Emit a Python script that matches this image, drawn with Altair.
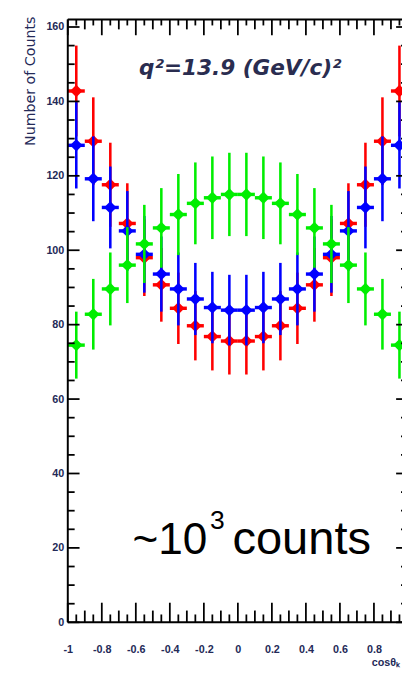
import altair as alt
import pandas as pd

# ---- data ----
x_centers = [-0.95, -0.85, -0.75, -0.65, -0.55, -0.45, -0.35, -0.25, -0.15, -0.05,
             0.05, 0.15, 0.25, 0.35, 0.45, 0.55, 0.65, 0.75, 0.85, 0.95]

red_vals = [142.8, 129.3, 117.6, 107.2, 98.0, 90.7, 84.4, 79.7, 76.8, 75.6,
            75.6, 76.8, 79.7, 84.4, 90.7, 98.0, 107.2, 117.6, 129.3, 142.8]
red_errs = [12.2, 11.8, 11.3, 10.8, 10.3, 9.9, 9.6, 9.3, 9.1, 9.0,
            9.0, 9.1, 9.3, 9.6, 9.9, 10.3, 10.8, 11.3, 11.8, 12.2]

blue_vals = [128.2, 119.2, 111.5, 105.2, 98.9, 93.6, 89.6, 86.9, 84.6, 83.9,
             83.9, 84.6, 86.9, 89.6, 93.6, 98.9, 105.2, 111.5, 119.2, 128.2]
blue_errs = [11.6, 11.4, 11.0, 10.7, 10.3, 10.1, 9.8, 9.7, 9.6, 9.5,
             9.5, 9.6, 9.7, 9.8, 10.1, 10.3, 10.7, 11.0, 11.4, 11.6]

green_vals = [74.5, 82.8, 89.6, 96.0, 101.7, 106.0, 109.6, 112.6, 114.1, 115.0,
              115.0, 114.1, 112.6, 109.6, 106.0, 101.7, 96.0, 89.6, 82.8, 74.5]
green_errs = [9.0, 9.5, 9.8, 10.2, 10.5, 10.7, 10.9, 11.0, 11.1, 11.2,
              11.2, 11.1, 11.0, 10.9, 10.7, 10.5, 10.2, 9.8, 9.5, 9.0]

series_names = ["red", "blue", "green"]
series_colors = ["#ff0000", "#0000ff", "#00ee00"]

y_label_values = [0, 20, 40, 60, 80, 100, 120, 140, 160]
y_minor_values = [v for v in range(5, 161, 5) if v % 20 != 0]
x_label_values = [-1, -0.8, -0.6, -0.4, -0.2, 0, 0.2, 0.4, 0.6, 0.8]
x_major_values = [-1, -0.8, -0.6, -0.4, -0.2, 0, 0.2, 0.4, 0.6, 0.8, 1.0]
x_mid_values = [-0.9, -0.7, -0.5, -0.3, -0.1, 0.1, 0.3, 0.5, 0.7, 0.9]
x_small_values = x_centers

title_text = "q²=13.9 (GeV/c)²"
y_title = "Number of Counts"
x_title = "cosθₖ"

# ---- build tables ----
rows = []
for name, vals, errs in [("red", red_vals, red_errs), ("blue", blue_vals, blue_errs),
                         ("green", green_vals, green_errs)]:
    for x, v, e in zip(x_centers, vals, errs):
        rows.append({"series": name, "x": x, "v": v, "e": e})
df = pd.DataFrame(rows)

W, H = 341, 615
xs = alt.Scale(domain=[-1, 0.965], nice=False, zero=False)
ys = alt.Scale(domain=[0, 162], nice=False, zero=False)
LABEL_COLOR = "#242a58"

x_axis = alt.Axis(values=x_label_values, ticks=False, domain=False, grid=False,
                  labelFontSize=11, labelFont="Liberation Sans", labelFontWeight="bold",
                  labelColor=LABEL_COLOR, labelPadding=22, labelFlush=False,
                  labelExpr="'' + datum.value", title=None)
y_axis = alt.Axis(values=y_label_values, ticks=False, domain=False, grid=False,
                  labelFontSize=11, labelFont="Liberation Sans", labelFontWeight="bold",
                  labelColor=LABEL_COLOR, labelPadding=4, labelFlush=False,
                  labelExpr="'' + datum.value", title=None)

layers = []
for name, color in zip(series_names, series_colors):
    base = alt.Chart(df).transform_filter(alt.datum.series == name).transform_calculate(
        lo="datum.v - datum.e", hi="datum.v + datum.e",
        xl="datum.x - 0.05", xr="datum.x + 0.05")
    vbar = base.mark_rule(color=color, strokeWidth=2.6).encode(
        x=alt.X("x:Q", scale=xs, axis=x_axis),
        y=alt.Y("lo:Q", scale=ys, axis=y_axis),
        y2="hi:Q")
    hbar = base.mark_rule(color=color, strokeWidth=3.5).encode(
        x=alt.X("xl:Q", scale=xs, axis=x_axis), x2="xr:Q",
        y=alt.Y("v:Q", scale=ys, axis=y_axis))
    pts = base.mark_point(shape="diamond", filled=True, size=160, color=color, opacity=1).encode(
        x=alt.X("x:Q", scale=xs, axis=x_axis),
        y=alt.Y("v:Q", scale=ys, axis=y_axis))
    layers += [vbar, hbar, pts]

# ---- frame and inward ticks ----
frame_df = pd.DataFrame({"k": [0]})
FRAME = "#000000"
left_line = alt.Chart(frame_df).mark_rule(color=FRAME, strokeWidth=2).encode(
    x=alt.value(0), y=alt.value(0), y2=alt.value(H))
bottom_line = alt.Chart(frame_df).mark_rule(color=FRAME, strokeWidth=2).encode(
    x=alt.value(0), x2=alt.value(W + 8), y=alt.value(H))
top_line = alt.Chart(frame_df).mark_rule(color=FRAME, strokeWidth=2).encode(
    x=alt.value(0), x2=alt.value(W + 8), y=alt.value(0))

def yticks(values, x0, x1):
    return alt.Chart(pd.DataFrame({"v": values})).mark_rule(color=FRAME, strokeWidth=1.8).encode(
        y=alt.Y("v:Q", scale=ys, axis=y_axis), x=alt.value(x0), x2=alt.value(x1))

def xticks(values, y0, y1):
    return alt.Chart(pd.DataFrame({"v": values})).mark_rule(color=FRAME, strokeWidth=1.8).encode(
        x=alt.X("v:Q", scale=xs, axis=x_axis), y=alt.value(y0), y2=alt.value(y1))

tick_layers = [
    yticks(y_label_values, 0, 12), yticks(y_minor_values, 0, 7),
    yticks(y_label_values, W + 6, W - 6), yticks(y_minor_values, W + 6, W - 1),
    xticks(x_major_values, H, H - 20), xticks(x_mid_values, H, H - 12), xticks(x_small_values, H, H - 8),
    xticks(x_major_values, 0, 16), xticks(x_mid_values, 0, 10), xticks(x_small_values, 0, 6),
]

# ---- texts ----
def text_layer(txt, x, y, **kw):
    return alt.Chart(pd.DataFrame({"t": [txt]})).mark_text(**kw).encode(
        text="t:N", x=alt.value(x), y=alt.value(y))

texts = [
    text_layer(title_text, 176, 50, align="center", baseline="middle", font="DejaVu Sans",
               fontSize=22, fontStyle="italic", fontWeight="bold", color="#2a2d50"),
    text_layer(y_title, -37, -3, align="right", baseline="middle", angle=270,
               font="DejaVu Sans", fontSize=14.5, color=LABEL_COLOR),
    text_layer(x_title, W - 2, H + 42, align="right", baseline="middle",
               font="Liberation Sans", fontSize=11, fontWeight="bold", color=LABEL_COLOR),
    text_layer("~10", 66, 545, align="left", baseline="alphabetic",
               font="Liberation Sans", fontSize=45, color="#000000"),
    text_layer("3", 145, 520, align="left", baseline="alphabetic",
               font="Liberation Sans", fontSize=27, color="#000000"),
    text_layer("counts", 168, 545, align="left", baseline="alphabetic",
               font="Liberation Sans", fontSize=48, color="#000000"),
]

chart = alt.layer(*layers, *tick_layers, left_line, bottom_line, top_line, *texts).properties(
    width=W, height=H,
    autosize=alt.AutoSizeParams(type="none"),
    padding={"left": 61, "top": 5, "right": 0, "bottom": 49},
    background="white",
).configure_view(stroke=None)

chart.save("out.html", embed_options={"renderer": "svg", "actions": False})
